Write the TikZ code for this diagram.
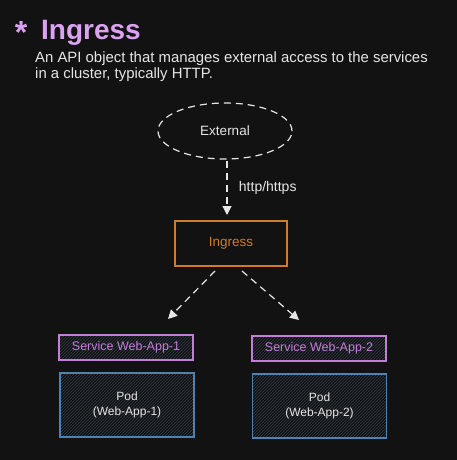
\documentclass[tikz,border=0pt]{standalone}
\usepackage{fontspec}
\setmainfont{Liberation Sans}
\usetikzlibrary{arrows.meta,patterns,shapes.geometric}
\definecolor{bg}{HTML}{121212}
\definecolor{titlec}{HTML}{DBA2F2}
\definecolor{txt}{HTML}{E6E6E6}
\definecolor{orangec}{HTML}{D27A2C}
\definecolor{purplec}{HTML}{C47ED8}
\definecolor{bluec}{HTML}{4F82B4}
\definecolor{hatch}{HTML}{323E4C}
\tikzset{
  lbl/.style={text=txt, font=\fontsize{12}{14}\selectfont},
  dashline/.style={draw=txt, line width=1.2pt, dash pattern=on 7pt off 5pt},
  arr/.style={dashline, -{Triangle[length=9pt,width=9pt,fill=txt]}},
  svc/.style={draw=purplec, line width=1.1pt, pattern=north east lines, pattern color=hatch, minimum width=134pt, minimum height=25pt, text=purplec, font=\fontsize{12.5}{14}\selectfont},
  pod/.style={draw=bluec, line width=1.1pt, pattern=north east lines, pattern color=hatch, minimum width=134pt, minimum height=64pt, text=txt, font=\fontsize{12}{15}\selectfont, align=center},
}
\begin{document}
\begin{tikzpicture}[x=1pt,y=-1pt]
\fill[bg] (0,0) rectangle (457,460);
\useasboundingbox (0,0) rectangle (457,460);
\node[text=titlec, font=\fontsize{32}{32}\selectfont\bfseries] (star) at (21,32) {*};
\node[anchor=west, text=titlec, font=\fontsize{28}{30}\selectfont\bfseries, inner sep=0pt] (title) at (41,33) {Ingress};
\node[anchor=west, lbl, font=\fontsize{14.9}{16}\selectfont, inner sep=0pt] (d1) at (35,59) {An API object that manages external access to the services};
\node[anchor=west, lbl, font=\fontsize{14.9}{16}\selectfont, inner sep=0pt] (d2) at (35,75) {in a cluster, typically HTTP.};
\node[ellipse, dashline, minimum width=134pt, minimum height=56pt, lbl, font=\fontsize{13.5}{14}\selectfont] (ext) at (225,131) {External};
\node[draw=orangec, line width=1.1pt, minimum width=112pt, minimum height=45pt, text=orangec, font=\fontsize{13.5}{14}\selectfont] (ing) at (231,243.5) {Ingress};
\node[svc] (s1) at (126,347.5) {Service Web-App-1};
\node[svc] (s2) at (319,348.5) {Service Web-App-2};
\node[pod] (p1) at (127,405) {Pod\\(Web-App-1)};
\node[pod] (p2) at (319.5,406) {Pod\\(Web-App-2)};
\coordinate (a1) at (227,161);
\coordinate (b1) at (227,215);
\draw[arr] (a1) -- (b1) node[midway, right=8pt, lbl, font=\fontsize{14}{14}\selectfont] (http) {http/https};
\coordinate (a2) at (215,271);
\coordinate (b2) at (168,319);
\coordinate (a3) at (242,271);
\coordinate (b3) at (299,320);
\draw[arr] (a2) -- (b2);
\draw[arr] (a3) -- (b3);
\end{tikzpicture}
\end{document}
